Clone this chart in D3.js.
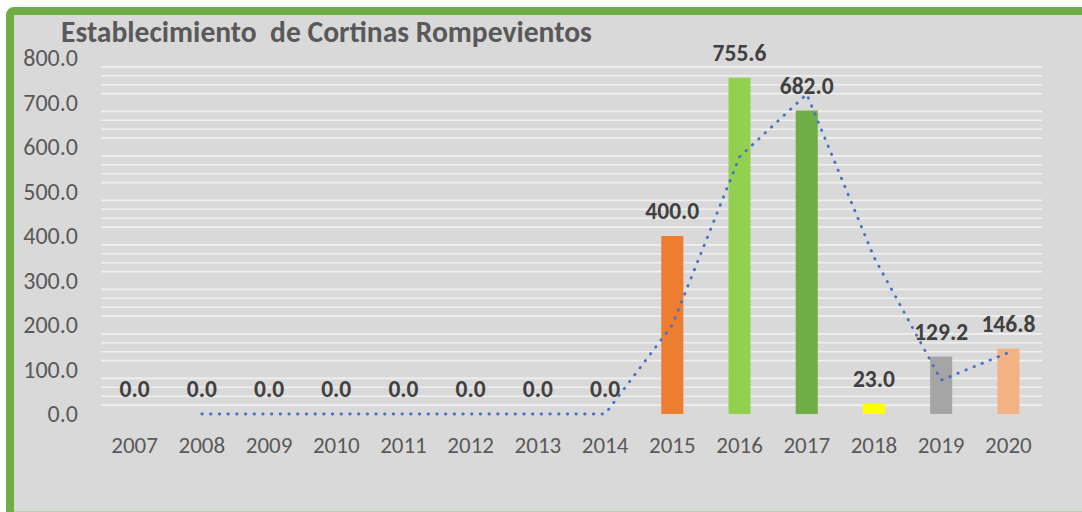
<!DOCTYPE html>
<html>
<head>
<meta charset="utf-8">
<script src="https://cdn.jsdelivr.net/npm/d3@7"></script>
<style>
  html, body { margin: 0; padding: 0; background: #ffffff; }
  svg { display: block; }
  text { font-family: Carlito, Lato, "Open Sans", sans-serif; }
</style>
</head>
<body>
<svg id="chart" width="1082" height="512"></svg>
<script>
// ---- data ----
const years = ["2007","2008","2009","2010","2011","2012","2013","2014","2015","2016","2017","2018","2019","2020"];
const values = [0, 0, 0, 0, 0, 0, 0, 0, 400.0, 755.6, 682.0, 23.0, 129.2, 146.8];
// 2-period moving average trendline (starts at 2008)
const trendValues = [null, 0, 0, 0, 0, 0, 0, 0, 200.0, 577.8, 718.8, 352.5, 76.1, 138.0];
const yTickValues = [0, 100, 200, 300, 400, 500, 600, 700, 800];
const titleText = "Establecimiento  de Cortinas Rompevientos";

// ---- styles ----
const barColors = ["#ED7D31","#ED7D31","#ED7D31","#ED7D31","#ED7D31","#ED7D31","#ED7D31","#ED7D31",
                   "#ED7D31","#92D050","#70AD47","#FFFF00","#A5A5A5","#F4B183"];

const svg = d3.select("#chart");

// frame
svg.append("rect")
  .attr("x", 10).attr("y", 11).attr("width", 1090).attr("height", 510).attr("rx", 4)
  .attr("fill", "#D9D9D9").attr("stroke", "#70AD47").attr("stroke-width", 8);
svg.append("line")
  .attr("x1", 14).attr("x2", 1082).attr("y1", 511.5).attr("y2", 511.5)
  .attr("stroke", "#B8D8A0").attr("stroke-width", 1);

const plotLeft = 101, plotRight = 1042;
const x = d3.scaleBand().domain(years).range([plotLeft, plotRight])
  .paddingInner(0.672).paddingOuter(0.336);
const y = d3.scaleLinear().domain([0, 800]).range([414, 58]);

// minor gridlines (every 20, majors not shown)
const gridVals = d3.range(20, 800, 20).filter(v => v % 100 !== 0);
svg.append("g").selectAll("line").data(gridVals).join("line")
  .attr("x1", plotLeft).attr("x2", plotRight)
  .attr("y1", d => y(d)).attr("y2", d => y(d))
  .attr("stroke", "#F0F0F0").attr("stroke-width", 1.6);

// y axis labels
const yAxis = d3.axisLeft(y).tickValues(yTickValues).tickFormat(d3.format(".1f")).tickSize(0).tickPadding(0);
const gy = svg.append("g").attr("transform", "translate(78,0)").call(yAxis);
gy.select(".domain").remove();
gy.selectAll("text").attr("font-size", 24).attr("fill", "#595959")
  .style("font-family", "Carlito, Lato, sans-serif");

// x axis labels
const xAxis = d3.axisBottom(x).tickSize(0).tickPadding(0);
const gx = svg.append("g").attr("transform", "translate(0,437)").call(xAxis);
gx.select(".domain").remove();
gx.selectAll("text").attr("font-size", 23).attr("fill", "#595959")
  .style("font-family", "Carlito, Lato, sans-serif");

// bars
svg.append("g").selectAll("rect").data(values).join("rect")
  .attr("x", (d, i) => x(years[i]))
  .attr("y", d => y(d))
  .attr("width", x.bandwidth())
  .attr("height", d => y(0) - y(d))
  .attr("fill", (d, i) => barColors[i]);

// data labels
svg.append("g").selectAll("text").data(values).join("text")
  .attr("x", (d, i) => x(years[i]) + x.bandwidth() / 2)
  .attr("y", d => y(d) - 17)
  .attr("text-anchor", "middle")
  .attr("font-size", 23.5).attr("font-weight", "bold").attr("fill", "#404040")
  .text(d => d3.format(".1f")(d));

// trendline
const line = d3.line()
  .defined(d => d.v !== null)
  .x(d => x(d.year) + x.bandwidth() / 2)
  .y(d => y(d.v));
svg.append("path")
  .datum(years.map((yr, i) => ({year: yr, v: trendValues[i]})))
  .attr("d", line)
  .attr("fill", "none").attr("stroke", "#4472C4").attr("stroke-width", 2.8)
  .attr("stroke-linecap", "round").attr("stroke-dasharray", "0.5 8.2");

// title
const title = svg.append("text")
  .attr("x", 61).attr("y", 42)
  .attr("font-size", 24).attr("font-weight", "bold").attr("fill", "#595959")
  .style("white-space", "pre")
  .text(titleText);
const tw = title.node().getComputedTextLength();
title.attr("font-size", 24 * 531 / tw);
</script>
</body>
</html>
